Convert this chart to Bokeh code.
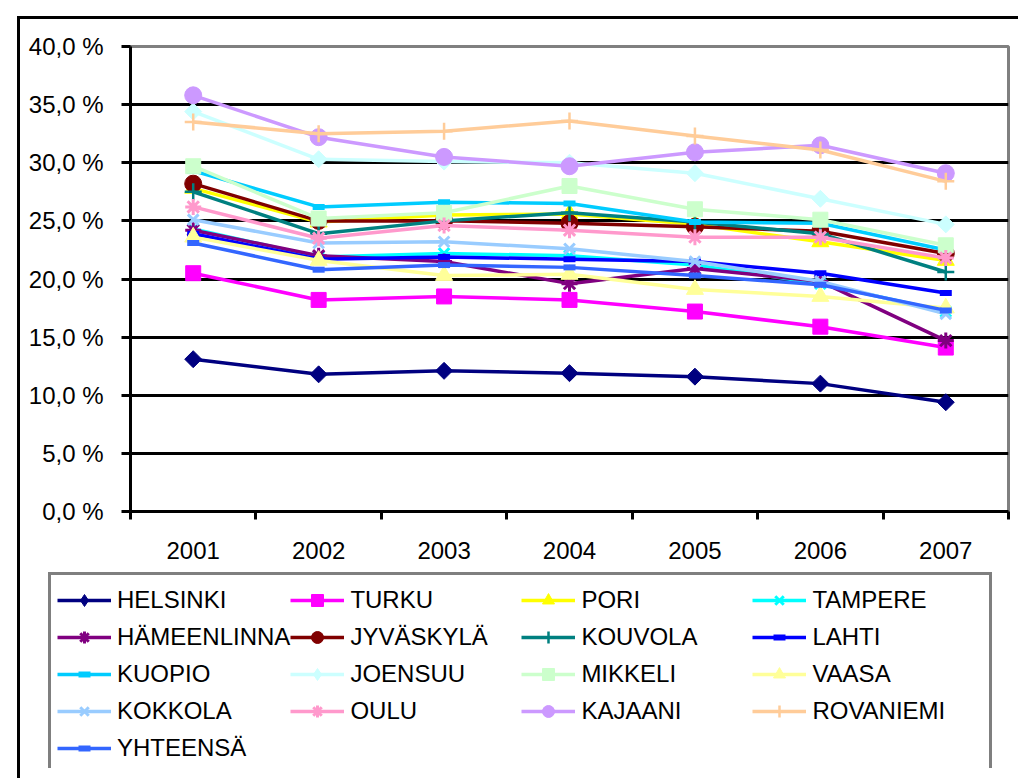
import math
from bokeh.plotting import figure
from bokeh.models import FixedTicker, Legend, LegendItem, Range1d, Div
from bokeh.embed import file_html
from bokeh.resources import INLINE

# ---- data ----
years = [2001, 2002, 2003, 2004, 2005, 2006, 2007]
year_labels = ["2001", "2002", "2003", "2004", "2005", "2006", "2007"]
y_ticks = [0, 5, 10, 15, 20, 25, 30, 35, 40]
y_tick_labels = ["0,0 %", "5,0 %", "10,0 %", "15,0 %", "20,0 %", "25,0 %", "30,0 %", "35,0 %", "40,0 %"]

series_names = ["HELSINKI", "TURKU", "PORI", "TAMPERE", "HÄMEENLINNA", "JYVÄSKYLÄ",
                "KOUVOLA", "LAHTI", "KUOPIO", "JOENSUU", "MIKKELI", "VAASA",
                "KOKKOLA", "OULU", "KAJAANI", "ROVANIEMI", "YHTEENSÄ"]

helsinki = [13.1, 11.8, 12.1, 11.9, 11.6, 11.0, 9.4]
turku = [20.5, 18.2, 18.5, 18.2, 17.2, 15.9, 14.1]
pori = [27.8, 24.9, 25.5, 25.6, 24.7, 23.2, 21.6]
tampere = [24.3, 21.9, 22.2, 22.0, 21.2, 19.6, 17.2]
hameenlinna = [24.2, 22.0, 21.5, 19.6, 20.9, 19.8, 14.7]
jyvaskyla = [28.2, 25.0, 25.0, 24.8, 24.5, 24.1, 22.2]
kouvola = [27.5, 23.9, 25.0, 25.7, 24.9, 23.9, 20.6]
lahti = [23.9, 21.7, 21.9, 21.7, 21.5, 20.5, 18.8]
kuopio = [29.3, 26.2, 26.6, 26.5, 24.9, 24.8, 22.5]
joensuu = [34.4, 30.3, 30.1, 30.0, 29.1, 26.9, 24.7]
mikkeli = [29.7, 25.2, 25.7, 28.0, 26.0, 25.1, 22.9]
vaasa = [23.6, 21.6, 20.3, 20.4, 19.1, 18.5, 17.5]
kokkola = [25.1, 23.1, 23.2, 22.6, 21.5, 19.8, 17.0]
oulu = [26.2, 23.5, 24.6, 24.2, 23.6, 23.6, 21.8]
kajaani = [35.8, 32.2, 30.5, 29.7, 30.9, 31.5, 29.1]
rovaniemi = [33.5, 32.5, 32.7, 33.6, 32.3, 31.1, 28.4]
yhteensa = [23.1, 20.8, 21.2, 21.0, 20.3, 19.5, 17.3]

series_values = [helsinki, turku, pori, tampere, hameenlinna, jyvaskyla, kouvola, lahti,
                 kuopio, joensuu, mikkeli, vaasa, kokkola, oulu, kajaani, rovaniemi, yhteensa]

# ---- styles ----
colors = ["#000080", "#FF00FF", "#FFFF00", "#00FFFF", "#800080", "#800000",
          "#008080", "#0000FF", "#00CCFF", "#CCFFFF", "#CCFFCC", "#FFFF99",
          "#99CCFF", "#FF99CC", "#CC99FF", "#FFCC99", "#3366FF"]
markers = ["diamond", "square", "triangle", "x", "asterisk", "circle",
           "cross", "dash", "dash", "diamond", "square", "triangle",
           "x", "asterisk", "circle", "cross", "dash"]
marker_style = {
    "diamond": dict(marker="square", size=12, angle=math.pi / 4, line_width=1),
    "square": dict(marker="square", size=15, angle=0, line_width=1),
    "triangle": dict(marker="triangle", size=17, angle=0, line_width=1),
    "x": dict(marker="x", size=15, angle=0, line_width=3),
    "asterisk": dict(marker="asterisk", size=16, angle=0, line_width=3),
    "circle": dict(marker="circle", size=17, angle=0, line_width=1),
    "cross": dict(marker="cross", size=17, angle=0, line_width=2.5),
    "dash": dict(marker="dash", size=12, angle=0, line_width=6),
}
legend_marker = {"diamond": "diamond"}

FONT = "Liberation Sans"
W = 1016
H_CHART = 566
H_LEG = 202

p = figure(width=W, height=H_CHART,
           x_range=Range1d(years[0] - 0.5, years[-1] + 0.5),
           y_range=Range1d(y_ticks[0], y_ticks[-1]),
           output_backend="svg", toolbar_location=None,
           min_border_left=130, min_border_top=46, min_border_right=8, min_border_bottom=55)

p.background_fill_color = "white"
p.border_fill_color = "white"
p.outline_line_color = "#808080"
p.outline_line_width = 3

# x axis
p.xaxis.ticker = FixedTicker(ticks=years, minor_ticks=[y - 0.5 for y in years] + [years[-1] + 0.5])
p.xaxis.major_label_overrides = {y: l for y, l in zip(years, year_labels)}
p.xaxis.major_tick_out = 0
p.xaxis.major_tick_in = 0
p.xaxis.minor_tick_out = 8
p.xaxis.minor_tick_in = 0
p.xaxis.minor_tick_line_color = "black"
p.xaxis.minor_tick_line_width = 3
p.xaxis.axis_line_color = "black"
p.xaxis.axis_line_width = 3
p.xaxis.major_label_standoff = 22
p.xaxis.major_label_text_font = FONT
p.xaxis.major_label_text_font_size = "24px"
p.xaxis.major_label_text_color = "black"

# y axis
p.yaxis.ticker = FixedTicker(ticks=y_ticks)
p.yaxis.major_label_overrides = {t: l for t, l in zip(y_ticks, y_tick_labels)}
p.yaxis.major_tick_out = 9
p.yaxis.major_tick_in = 0
p.yaxis.major_tick_line_color = "black"
p.yaxis.major_tick_line_width = 3
p.yaxis.minor_tick_line_color = None
p.yaxis.axis_line_color = "black"
p.yaxis.axis_line_width = 3
p.yaxis.major_label_standoff = 18
p.yaxis.major_label_text_font = FONT
p.yaxis.major_label_text_font_size = "24px"
p.yaxis.major_label_text_color = "black"

p.xgrid.grid_line_color = None
p.ygrid.ticker = FixedTicker(ticks=y_ticks[1:-1])
p.ygrid.grid_line_color = "black"
p.ygrid.grid_line_width = 3

# legend holder figure (its frame fills the whole canvas)
p2 = figure(width=W, height=H_LEG, x_range=Range1d(0, 1), y_range=Range1d(0, 1),
            x_axis_type=None, y_axis_type=None,
            output_backend="svg", toolbar_location=None,
            min_border=0, min_border_left=0, min_border_right=0,
            min_border_top=0, min_border_bottom=0)
p2.outline_line_color = None
p2.background_fill_color = "white"
p2.border_fill_color = "white"
p2.grid.grid_line_color = None

items = []
for name, vals, color, mk in zip(series_names, series_values, colors, markers):
    st = marker_style[mk]
    p.line(years, vals, line_color=color, line_width=3.5)
    p.scatter(years, vals, marker=st["marker"], size=st["size"], angle=st["angle"],
              fill_color=color, line_color=color, line_width=st["line_width"])
    # same series in the legend figure (outside its visible range), used for legend entries
    l2 = p2.line(years, vals, line_color=color, line_width=3.5)
    s2 = p2.scatter(years, vals, marker=legend_marker.get(mk, st["marker"]), size=st["size"],
                    fill_color=color, line_color=color, line_width=st["line_width"])
    items.append(LegendItem(label=name, renderers=[l2, s2]))

legend = Legend(items=items, location=(48, -7), orientation="horizontal", ncols=4,
                label_text_font=FONT, label_text_font_size="24px", label_text_color="black",
                glyph_width=54, glyph_height=30, label_height=37, label_width=171,
                label_standoff=6, spacing=0, padding=6, margin=0,
                border_line_color="black", border_line_width=3,
                background_fill_color="white", background_fill_alpha=1.0)
p2.add_layout(legend)

# outer chart-area border (only its left and top edges fall inside the window)
frame_div = Div(text="", width=2000, height=2000,
                styles={"position": "fixed", "left": "12px", "top": "11px",
                        "border-left": "3px solid #000", "border-top": "3px solid #000",
                        "pointer-events": "none", "background": "transparent"})

open("out.html", "w").write(file_html([p, p2, frame_div], INLINE))
